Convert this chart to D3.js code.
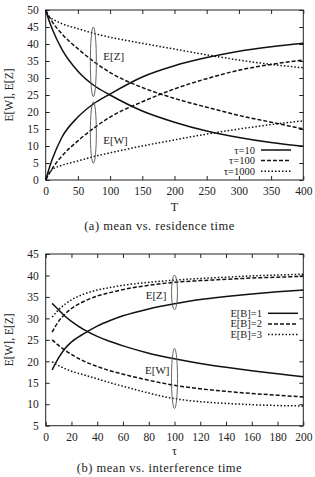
<!DOCTYPE html>
<html>
<head>
<meta charset="utf-8">
<script src="https://cdn.jsdelivr.net/npm/d3@7"></script>
<style>
  body { margin: 0; background: #fff; }
  svg text { font-family: "Liberation Serif", "DejaVu Serif", serif; fill: #222; }
</style>
</head>
<body>
<div id="chart"></div>
<script>
// (a) mean vs. residence time
const residenceT = [0, 5, 10, 25, 50, 75, 100, 150, 200, 250, 300, 350, 400];
const wTau10   = [0, 3.2, 6, 12.5, 18.5, 22.5, 25.3, 30.3, 33.6, 36, 37.9, 39.2, 40.2];
const zTau10   = [50, 47, 44.5, 38.5, 32, 27.8, 25, 20.3, 17, 14.4, 12.5, 11, 9.9];
const wTau100  = [0, 1.7, 3.3, 7, 11.5, 15.3, 18.5, 23, 26.8, 29.8, 32.3, 34, 35.3];
const zTau100  = [50, 48.2, 46.6, 43, 38.6, 34.8, 31.6, 27.2, 24, 21.4, 19, 17, 15];
const wTau1000 = [0, 2, 3, 4.3, 5.6, 6.9, 8, 10, 11.8, 13.5, 15, 16.3, 17.4];
const zTau1000 = [50, 48, 47.4, 46, 44.5, 43.1, 42, 40.2, 38.5, 36.8, 35.3, 34, 33];
const tauLabels = ["τ=10", "τ=100", "τ=1000"];
const topXTicks = [0, 50, 100, 150, 200, 250, 300, 350, 400];
const topYTicks = [0, 5, 10, 15, 20, 25, 30, 35, 40, 45, 50];

// (b) mean vs. interference time
const interferenceTau = [5, 10, 15, 20, 30, 40, 50, 60, 80, 100, 120, 140, 160, 180, 200];
const zB1 = [18, 20.8, 23, 24.5, 26.5, 28.2, 29.5, 30.6, 32.2, 33.4, 34.4, 35.1, 35.7, 36.2, 36.6];
const wB1 = [33.5, 32, 30.5, 29.3, 27.3, 25.8, 24.6, 23.6, 21.9, 20.6, 19.5, 18.6, 17.8, 17.1, 16.4];
const zB2 = [26.8, 29.3, 31, 32.3, 34, 35.2, 36, 36.7, 37.7, 38.4, 38.8, 39.1, 39.4, 39.6, 39.8];
const wB2 = [25, 23.7, 22.6, 21.6, 20, 18.8, 17.8, 17, 15.6, 14.4, 13.6, 13, 12.5, 12.1, 11.7];
const zB3 = [30.3, 32, 33.3, 34.3, 35.7, 36.6, 37.2, 37.7, 38.4, 38.9, 39.3, 39.6, 39.9, 40.1, 40.3];
const wB3 = [19.9, 19, 18.3, 17.7, 16.8, 15.9, 15, 14.2, 12.6, 11.3, 10.6, 10.2, 9.9, 9.7, 9.6];
const bLabels = ["E[B]=1", "E[B]=2", "E[B]=3"];
const bottomXTicks = [0, 20, 40, 60, 80, 100, 120, 140, 160, 180, 200];
const bottomYTicks = [5, 10, 15, 20, 25, 30, 35, 40, 45];

const dashes = [null, "4,2", "1.5,2"];

const svg = d3.select("#chart").append("svg")
    .attr("width", 315)
    .attr("height", 477);

function panel(opt) {
    const x = d3.scaleLinear().domain(opt.xDomain).range([45.7, 303.3]);
    const y = d3.scaleLinear().domain(opt.yDomain).range([opt.bottom, opt.top]);
    const g = svg.append("g");

    // axes: labelled on bottom/left, mirrored ticks on top/right
    const ax = g.append("g").attr("transform", `translate(0,${opt.bottom})`)
        .call(d3.axisBottom(x).tickValues(opt.xTicks).tickSizeInner(-4).tickSizeOuter(0).tickPadding(7));
    const ay = g.append("g").attr("transform", `translate(45.7,0)`)
        .call(d3.axisLeft(y).tickValues(opt.yTicks).tickSizeInner(-4).tickSizeOuter(0).tickPadding(7));
    g.append("g").attr("transform", `translate(0,${opt.top})`)
        .call(d3.axisTop(x).tickValues(opt.xTicks).tickSizeInner(-4).tickSizeOuter(0).tickFormat(""));
    g.append("g").attr("transform", `translate(303.3,0)`)
        .call(d3.axisRight(y).tickValues(opt.yTicks).tickSizeInner(-4).tickSizeOuter(0).tickFormat(""));
    g.selectAll(".domain").remove();
    g.selectAll(".tick line").attr("stroke", "#222");
    [ax, ay].forEach(a => a.selectAll("text").style("font-size", "11.5px").style("font-family", "Liberation Serif").attr("fill", "#222"));

    g.append("rect")
        .attr("x", 45.7).attr("y", opt.top)
        .attr("width", 303.3 - 45.7).attr("height", opt.bottom - opt.top)
        .attr("fill", "none").attr("stroke", "#222").attr("stroke-width", 1);

    // curves
    const line = d3.line().x(d => x(d[0])).y(d => y(d[1])).curve(d3.curveMonotoneX);
    opt.series.forEach((s, i) => {
        s.forEach(vals => {
            g.append("path")
                .datum(opt.xs.map((t, k) => [t, vals[k]]))
                .attr("d", line)
                .attr("fill", "none")
                .attr("stroke", "#111")
                .attr("stroke-width", 1.5)
                .attr("stroke-dasharray", dashes[i]);
        });
    });

    // ellipses marking E[Z] and E[W]
    opt.ellipses.forEach(e => {
        g.append("ellipse")
            .attr("cx", x(e.at))
            .attr("cy", (y(e.from) + y(e.to)) / 2)
            .attr("rx", 3)
            .attr("ry", Math.abs(y(e.from) - y(e.to)) / 2)
            .attr("fill", "none")
            .attr("stroke", "#555")
            .attr("stroke-width", 0.9);
        g.append("text")
            .attr("x", x(e.at) + e.dx)
            .attr("y", y(e.labelAt) + 4)
            .attr("text-anchor", e.dx > 0 ? "start" : "end")
            .style("font-size", "11px")
            .text(e.label);
    });

    // legend
    opt.legend.forEach((lab, i) => {
        const ly = opt.legendY + i * 10.6;
        g.append("text")
            .attr("x", opt.legendX)
            .attr("y", ly + 3.5)
            .attr("text-anchor", "end")
            .style("font-size", "10.5px")
            .text(lab);
        g.append("line")
            .attr("x1", opt.legendX + 6).attr("x2", opt.legendX + 36)
            .attr("y1", ly).attr("y2", ly)
            .attr("stroke", "#111")
            .attr("stroke-width", 1.5)
            .attr("stroke-dasharray", dashes[i]);
    });

    // titles
    g.append("text")
        .attr("x", (45.7 + 303.3) / 2)
        .attr("y", opt.bottom + opt.labelGap)
        .attr("text-anchor", "middle")
        .style("font-size", "12px")
        .text(opt.xLabel);
    g.append("text")
        .attr("transform", `translate(13,${(opt.top + opt.bottom) / 2}) rotate(-90)`)
        .attr("text-anchor", "middle")
        .style("font-size", "11.5px")
        .text("E[W], E[Z]");
    g.append("text")
        .attr("x", (45.7 + 303.3) / 2 - 15)
        .attr("y", opt.bottom + opt.captionGap)
        .attr("text-anchor", "middle")
        .style("font-size", "12.5px")
        .style("letter-spacing", "0.5px")
        .text(opt.caption);
}

panel({
    xDomain: [0, 400], yDomain: [0, 50], top: 10, bottom: 180,
    xTicks: topXTicks, yTicks: topYTicks, xs: residenceT,
    series: [[wTau10, zTau10], [wTau100, zTau100], [wTau1000, zTau1000]],
    ellipses: [
        { at: 74, from: 45, to: 24.5, label: "E[Z]", labelAt: 36.5, dx: 10 },
        { at: 74, from: 23, to: 4.9, label: "E[W]", labelAt: 11.8, dx: 10 }
    ],
    legend: tauLabels, legendX: 255, legendY: 150,
    xLabel: "T", caption: "(a)  mean vs. residence time",
    labelGap: 31, captionGap: 50
});

panel({
    xDomain: [0, 200], yDomain: [5, 45], top: 254, bottom: 425.7,
    xTicks: bottomXTicks, yTicks: bottomYTicks, xs: interferenceTau,
    series: [[wB1, zB1], [wB2, zB2], [wB3, zB3]],
    ellipses: [
        { at: 100, from: 40.1, to: 32, label: "E[Z]", labelAt: 35.4, dx: -8 },
        { at: 100, from: 23, to: 9, label: "E[W]", labelAt: 18, dx: -5 }
    ],
    legend: bLabels, legendX: 262, legendY: 313.3,
    xLabel: "τ", caption: "(b)  mean vs. interference time",
    labelGap: 29, captionGap: 46.5
});
</script>
</body>
</html>
